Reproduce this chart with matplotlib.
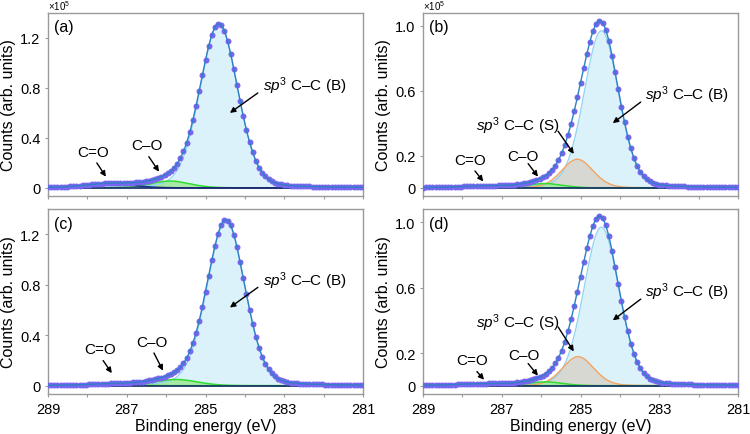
import numpy as np
import matplotlib
import matplotlib.pyplot as plt
from matplotlib.ticker import FixedLocator, MultipleLocator

matplotlib.use("Agg")

plt.rcParams["font.family"] = ["Liberation Sans", "DejaVu Sans"]
plt.rcParams["mathtext.fontset"] = "custom"
plt.rcParams["mathtext.rm"] = "Liberation Sans"
plt.rcParams["mathtext.it"] = "Liberation Sans:italic"

# fitted peaks (counts in units of 1e5)
panel_labels = ["(a)", "(b)", "(c)", "(d)"]
bulk_center = [284.66, 284.47, 284.48, 284.47]
bulk_height = [1.31, 0.97, 1.31, 0.97]
bulk_sigma = [0.48, 0.44, 0.48, 0.45]
surf_center = [None, 285.08, None, 285.06]
surf_height = [0.0, 0.177, 0.0, 0.178]
surf_sigma = [0.0, 0.40, 0.0, 0.40]
co_center = [285.9, 285.9, 285.75, 285.9]
co_height = [0.055, 0.027, 0.050, 0.024]
co_sigma = [0.50, 0.45, 0.55, 0.45]
cdo_center = [287.4, 287.4, 287.3, 287.5]
cdo_height = [0.030, 0.008, 0.010, 0.008]
cdo_sigma = [0.60, 0.60, 0.60, 0.60]
gl_mix = 0.15

y_ticks = [[0, 0.4, 0.8, 1.2], [0, 0.2, 0.6, 1.0], [0, 0.4, 0.8, 1.2], [0, 0.2, 0.6, 1.0]]
y_limits = [(-0.065, 1.40), (-0.05, 1.08), (-0.065, 1.40), (-0.05, 1.08)]
x_ticks = [289, 287, 285, 283, 281]

energy = np.linspace(281, 289, 801)
energy_pts = np.linspace(281, 289, 101)


def peak(x, c, h, s):
    if c is None or h == 0:
        return np.zeros_like(x)
    g = np.exp(-(x - c) ** 2 / (2 * s ** 2))
    lor = 1.0 / (1.0 + ((x - c) / (1.1774 * s)) ** 2)
    return h * ((1 - gl_mix) * g + gl_mix * lor)


def components(x, i):
    b = peak(x, bulk_center[i], bulk_height[i], bulk_sigma[i])
    s = peak(x, surf_center[i], surf_height[i], surf_sigma[i])
    co = peak(x, co_center[i], co_height[i], co_sigma[i])
    cdo = peak(x, cdo_center[i], cdo_height[i], cdo_sigma[i])
    return b, s, co, cdo


# label text, text position, arrow tail, arrow tip (data coords)
annotations = [
    [(r"$sp^3$ C–C (B)", 282.48, 0.82, 283.67, 0.76, 284.38, 0.60),
     ("C=O", 287.86, 0.29, 287.76, 0.20, 287.53, 0.09),
     ("C–O", 286.49, 0.34, 286.44, 0.25, 286.18, 0.13)],
    [(r"$sp^3$ C–C (B)", 282.30, 0.58, 283.47, 0.53, 284.18, 0.40),
     (r"$sp^3$ C–C (S)", 286.59, 0.39, 285.57, 0.35, 285.17, 0.21),
     ("C=O", 287.80, 0.17, 287.68, 0.105, 287.47, 0.04),
     ("C–O", 286.46, 0.20, 286.33, 0.15, 286.08, 0.07)],
    [(r"$sp^3$ C–C (B)", 282.48, 0.84, 283.67, 0.78, 284.38, 0.62),
     ("C=O", 287.68, 0.29, 287.60, 0.20, 287.38, 0.10),
     ("C–O", 286.36, 0.35, 286.31, 0.26, 286.08, 0.12)],
    [(r"$sp^3$ C–C (B)", 282.30, 0.58, 283.47, 0.53, 284.18, 0.40),
     (r"$sp^3$ C–C (S)", 286.59, 0.39, 285.57, 0.36, 285.17, 0.21),
     ("C=O", 287.76, 0.16, 287.63, 0.087, 287.45, 0.037),
     ("C–O", 286.44, 0.19, 286.33, 0.136, 286.08, 0.062)],
]

fig = plt.figure(figsize=(7.5, 4.35), dpi=100)
boxes = [
    [0.064, 0.547, 0.42, 0.421],
    [0.564, 0.547, 0.42, 0.421],
    [0.064, 0.092, 0.42, 0.425],
    [0.564, 0.092, 0.42, 0.425],
]

for i, box in enumerate(boxes):
    ax = fig.add_axes(box)
    b, s, co, cdo = components(energy, i)
    total = b + s + co + cdo
    bp, sp, cop, cdop = components(energy_pts, i)
    total_pts = bp + sp + cop + cdop

    ax.fill_between(energy, 0, b, color="#dcf2fb", lw=0, zorder=1)
    ax.plot(energy, b, color="#8fd3f2", lw=0.9, zorder=2)
    if surf_center[i] is not None:
        ax.fill_between(energy, 0, s, color="#d8d8d2", lw=0, zorder=1.2)
        ax.plot(energy, s, color="#f4a460", lw=1.0, zorder=2)
    ax.fill_between(energy, 0, co, color="#a6eaa6", lw=0, zorder=1.3)
    ax.plot(energy, co, color="#2fdc2f", lw=1.1, zorder=2.1)
    cdo_color = "#1d2f8f" if i == 0 else "#2fdc2f"
    ax.plot(energy, cdo, color=cdo_color, lw=1.1, zorder=2.1)
    ax.axhline(0, color="#1a2a6c", lw=1.2, zorder=2.2)

    ax.plot(energy_pts, total_pts, "o", color="#7866f0", ms=4.3, mec="none", zorder=3)
    ax.plot(energy, total, color="#2f7fc4", lw=1.0, zorder=4)

    ax.set_xlim(289, 281)
    ax.set_ylim(*y_limits[i])
    ax.xaxis.set_major_locator(FixedLocator(x_ticks))
    ax.xaxis.set_minor_locator(MultipleLocator(1))
    ax.set_yticks(y_ticks[i])
    ax.set_yticklabels(["0" if t == 0 else f"{t:.1f}" for t in y_ticks[i]])
    ax.tick_params(axis="both", which="both", length=2.5, width=0.8, color="#999999",
                   labelsize=10.5, direction="out", pad=3)
    for sp_ in ax.spines.values():
        sp_.set_color("#9a9a9a")
        sp_.set_linewidth(1.0)

    if i < 2:
        ax.tick_params(axis="x", labelbottom=False)
        ax.text(0.0, 1.004, r"$\times$10$^5$", transform=ax.transAxes, fontsize=7,
                ha="left", va="bottom")
    else:
        ax.set_xlabel("Binding energy (eV)", fontsize=11.5, labelpad=2)
    ax.set_ylabel("Counts (arb. units)", fontsize=11.5, labelpad=3)

    ax.text(0.02, 0.965, panel_labels[i], transform=ax.transAxes, fontsize=11.5,
            ha="left", va="top")

    for label, tx, ty, ax0, ay0, ax1, ay1 in annotations[i]:
        ax.text(tx, ty, label, fontsize=11, ha="center", va="center", zorder=6)
        ax.annotate("", xy=(ax1, ay1), xytext=(ax0, ay0),
                    arrowprops=dict(arrowstyle="-|>", color="black", lw=1.0,
                                    mutation_scale=8, shrinkA=0, shrinkB=0),
                    zorder=6)

fig.savefig("out.png", dpi=100)
